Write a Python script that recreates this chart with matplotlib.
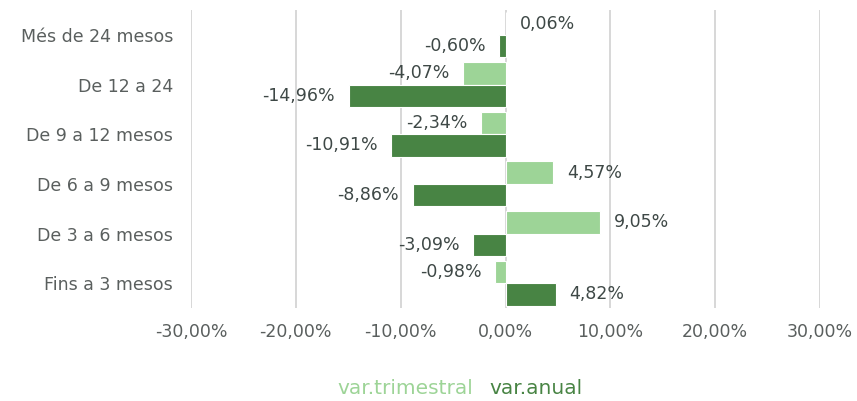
import matplotlib.pyplot as plt
import numpy as np

categories = ["Més de 24 mesos", "De 12 a 24", "De 9 a 12 mesos",
              "De 6 a 9 mesos", "De 3 a 6 mesos", "Fins a 3 mesos"]
var_trimestral = [0.06, -4.07, -2.34, 4.57, 9.05, -0.98]
var_anual = [-0.60, -14.96, -10.91, -8.86, -3.09, 4.82]
xticks = [-30, -20, -10, 0, 10, 20, 30]

LIGHT = "#9dd497"
DARK = "#488444"
TXT = "#3e4846"
TICK = "#5a5f5e"

plt.rcParams["font.family"] = ["DejaVu Sans"]

fig = plt.figure(figsize=(8.57, 4.01), dpi=100)
ax = fig.add_axes([191 / 857, 1 - 308 / 401, 629 / 857, 298 / 401])

y = np.arange(len(categories))
h = 0.45
ax.barh(y - h / 2, var_trimestral, height=h, color=LIGHT, edgecolor="white", linewidth=0.8, zorder=3)
ax.barh(y + h / 2, var_anual, height=h, color=DARK, edgecolor="white", linewidth=0.8, zorder=3)


def fmt(v):
    return f"{v:.2f}%".replace(".", ",")


for yy, vals in ((y - h / 2, var_trimestral), (y + h / 2, var_anual)):
    for yi, v in zip(yy, vals):
        off = 1.3 if v >= 0 else -1.3
        ax.text(v + off, yi, fmt(v), ha="left" if v >= 0 else "right", va="center",
                fontsize=12.5, color=TXT, zorder=4)

ax.set_xlim(-30, 30)
ax.set_ylim(len(categories) - 0.5, -0.5)
ax.set_xticks(xticks)
ax.set_xticklabels([f"{t:.2f}%".replace(".", ",") for t in xticks])
ax.set_yticks(y)
ax.set_yticklabels(categories)
ax.tick_params(length=0, labelsize=12.5, colors=TICK)
ax.tick_params(axis="x", pad=11)
ax.tick_params(axis="y", pad=13)
ax.grid(axis="x", color="#d4d4d4", linewidth=1.3, zorder=0)
for s in ax.spines.values():
    s.set_visible(False)

fig.text(473 / 857, 1 - 388 / 401, "var.trimestral", ha="right", va="center", fontsize=14.5, color=LIGHT)
fig.text(489 / 857, 1 - 388 / 401, "var.anual", ha="left", va="center", fontsize=14.5, color=DARK)

fig.savefig("out.png", dpi=100, facecolor="white")
